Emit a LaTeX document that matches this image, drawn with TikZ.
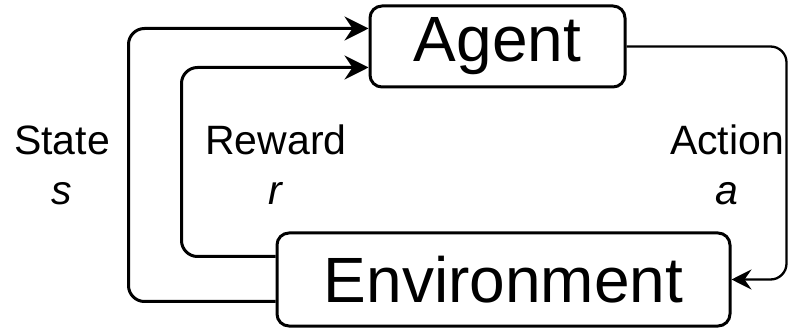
\documentclass[tikz,border=0pt]{standalone}
\usepackage{fontspec}
\setmainfont{Liberation Sans}
\usetikzlibrary{arrows.meta}

\tikzset{
  block/.style={draw, line width=3pt, rounded corners=12pt, inner sep=0pt},
  flow/.style={line width=3pt, rounded corners=16pt,
    -{Stealth[length=24pt,width=24pt,inset=8pt]}},
  lbl/.style={align=center, font=\fontsize{41}{50}\selectfont}
}

\begin{document}
\begin{tikzpicture}[x=1pt, y=-1pt]
    \useasboundingbox (0,0) rectangle (789,328);
    \node[block, minimum width=255pt, minimum height=81pt,
          font=\fontsize{64}{70}\selectfont] (agent) at (497.5,46.5) {Agent};
    \node[block, minimum width=453pt, minimum height=93pt,
          font=\fontsize{64}{70}\selectfont] (env) at (503.5,279.5) {Environment};
    \node[lbl] (state) at (62,165) {State\\\textit{s}};
    \node[lbl] (reward) at (276,165) {Reward\\\textit{r}};
    \node[lbl] (action) at (727,165) {Action\\\textit{a}};
    \draw[flow] ([yshift=-22pt]env.west) -- ++(-147,0) |- ([yshift=18pt]agent.west);
    \draw[flow] ([yshift=23pt]env.west) -- ++(-94,0) |- ([yshift=-21pt]agent.west);
    \draw[flow, line width=2.3pt, -{Stealth[length=20pt,width=20pt,inset=7pt]}]
      (agent.east) -- ++(160,0) |- (env.east);
\end{tikzpicture}
\end{document}
